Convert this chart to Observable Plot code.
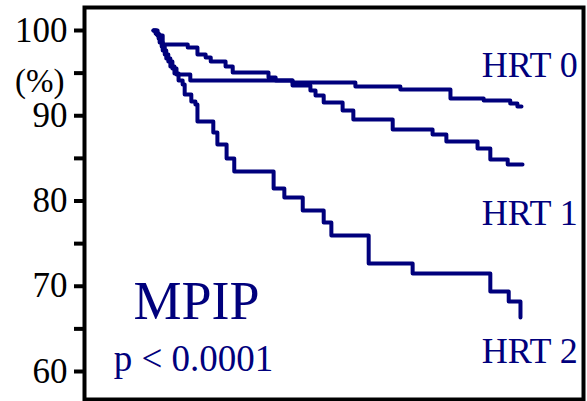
<!DOCTYPE html>
<html><head><meta charset="utf-8">
<script src="https://cdn.jsdelivr.net/npm/d3@7"></script>
<script src="https://cdn.jsdelivr.net/npm/@observablehq/plot@0.6"></script>
<style>body{margin:0;background:#fff}</style>
</head><body><div id="chart"></div>
<script>
// Survival step points (time in months, survival %)
const hrt0T = [0, 0.4, 1.0, 1.6, 2.2, 2.9, 3.7, 4.5, 7.2, 27.2, 39.5, 48.3, 58.1, 64.6, 69.8, 71.2, 72];
const hrt0V = [100, 99.65, 99.06, 98.12, 97.18, 96.36, 95.54, 94.84, 94.13, 93.9, 93.43, 93.08, 92.02, 91.79, 91.44, 91.08, 91.08];
const hrt1T = [0, 0.8, 1.8, 6.7, 8.6, 10.2, 11.2, 14.1, 15.5, 22.5, 23.9, 27.2, 30.7, 31.7, 33.3, 37.0, 39.1, 46.8, 54.6, 57.3, 63.4, 65.9, 69.3, 72.2];
const hrt1V = [100, 99.41, 98.36, 98.0, 97.18, 96.83, 96.36, 95.78, 95.07, 94.49, 94.13, 93.55, 92.96, 92.38, 91.55, 90.62, 89.56, 88.39, 87.8, 86.98, 86.16, 84.87, 84.28, 84.28];
const hrt2T = [0, 0.6, 1.2, 1.8, 2.5, 3.3, 4.1, 4.9, 5.7, 6.1, 7.4, 8.2, 8.6, 11.7, 12.5, 14.3, 15.8, 23.5, 25.6, 29.2, 33.3, 34.8, 42.1, 50.7, 65.9, 69.5, 71.8];
const hrt2V = [100, 99.53, 98.59, 97.65, 96.72, 95.78, 94.96, 94.13, 93.67, 92.49, 91.67, 91.32, 89.33, 88.04, 86.63, 84.99, 83.46, 81.47, 80.41, 78.89, 77.48, 75.95, 72.67, 71.5, 69.38, 68.21, 66.33];

const seriesNames = ["HRT 0", "HRT 1", "HRT 2"];
const yMajor = [60, 70, 80, 90, 100];
const yMinor = [65, 75, 85, 95];

// annotation anchors (data coordinates)
const labelT = [64.2, 64.2, 64.2];
const labelV = [94.49, 77.13, 60.94];

const seriesT = [hrt0T, hrt1T, hrt2T];
const seriesV = [hrt0V, hrt1V, hrt2V];
const rows = [];
seriesNames.forEach((s, i) => seriesT[i].forEach((t, j) => rows.push({series: s, t, v: seriesV[i][j]})));
const labels = seriesNames.map((s, i) => ({text: s, t: labelT[i], v: labelV[i]}));

const navy = "#00007c";
const serif = "'Liberation Serif','Times New Roman',serif";

const chart = Plot.plot({
  width: 587, height: 401,
  marginLeft: 84, marginRight: 4, marginTop: 7, marginBottom: 2,
  x: {domain: [0, 72], range: [153, 521], axis: null},
  y: {domain: [60, 100], range: [371, 30], axis: null},
  style: {fontFamily: serif, background: "white", overflow: "visible"},
  marks: [
    Plot.axisY({ticks: yMajor, tickSize: 10, tickPadding: 7, fontSize: 35, fontFamily: serif, strokeWidth: 4, fill: "black", stroke: "black", label: null}),
    Plot.axisY({ticks: yMinor, tickSize: 10, tickFormat: () => "", strokeWidth: 4, stroke: "black", label: null}),
    Plot.text(["(%)"], {y: [95], frameAnchor: "left", textAnchor: "end", dx: -20, dy: 8, fontSize: 33, fontFamily: serif, fill: "black"}),
    Plot.line(rows, {x: "t", y: "v", z: "series", curve: "step-after", stroke: navy, strokeWidth: 4}),
    Plot.text(labels, {x: "t", y: "v", text: "text", textAnchor: "start", lineAnchor: "bottom", fontSize: 36, fill: navy}),
    Plot.text(["MPIP"], {x: [-3.9], y: [66.2], textAnchor: "start", lineAnchor: "bottom", fontSize: 54, fill: navy}),
    Plot.text(["p < 0.0001"], {x: [-7.8], y: [60.1], textAnchor: "start", lineAnchor: "bottom", fontSize: 37, fill: navy}),
    Plot.frame({stroke: "black", strokeWidth: 4})
  ]
});
document.getElementById("chart").appendChild(chart);
</script>
</body></html>
